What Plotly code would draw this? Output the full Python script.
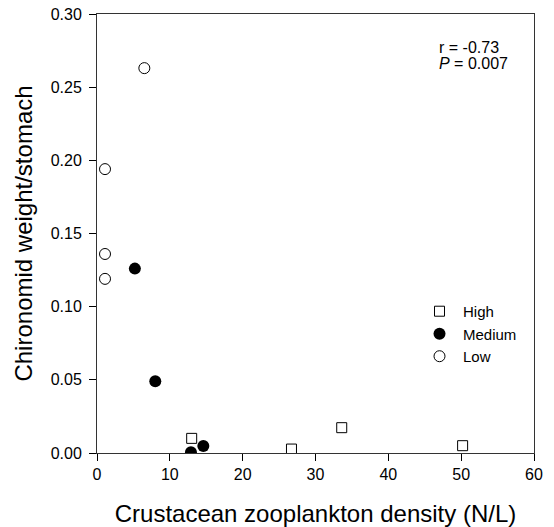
import plotly.graph_objects as go

high_x = [13.0, 26.7, 33.6, 50.2]
high_y = [0.010, 0.0027, 0.0173, 0.005]
med_x = [5.2, 8.0, 12.9, 14.6]
med_y = [0.126, 0.049, 0.0005, 0.0048]
low_x = [6.5, 1.1, 1.1, 1.1]
low_y = [0.263, 0.194, 0.136, 0.119]

x_ticks = [0, 10, 20, 30, 40, 50, 60]
y_ticks = [0.00, 0.05, 0.10, 0.15, 0.20, 0.25, 0.30]

FONT = "Liberation Sans, Arial, sans-serif"

fig = go.Figure()
fig.add_trace(go.Scatter(x=high_x, y=high_y, mode="markers", name="High",
                         marker=dict(symbol="square-open", size=10, color="black", line=dict(width=1))))
fig.add_trace(go.Scatter(x=med_x, y=med_y, mode="markers", name="Medium",
                         marker=dict(symbol="circle", size=12, color="black")))
fig.add_trace(go.Scatter(x=low_x, y=low_y, mode="markers", name="Low",
                         marker=dict(symbol="circle-open", size=11, color="black", line=dict(width=1))))

fig.update_layout(
    width=554, height=527,
    margin=dict(l=97, r=20, t=14, b=74, autoexpand=False),
    paper_bgcolor="white", plot_bgcolor="white",
    font=dict(family=FONT, color="black", size=16),
    showlegend=True,
    legend=dict(x=0.73, y=0.36, xanchor="left", yanchor="top", bgcolor="rgba(0,0,0,0)",
                font=dict(size=15), tracegroupgap=0, itemwidth=37),
    xaxis=dict(range=[0, 60], tickvals=x_ticks, ticks="outside", ticklen=7, tickwidth=1,
               tickcolor="black", showline=True, linecolor="#333", linewidth=1, mirror=True,
               showgrid=False, zeroline=False, automargin=False,
               title=dict(text="Crustacean zooplankton density (N/L)", font=dict(size=24), standoff=26),
               tickfont=dict(size=16)),
    yaxis=dict(range=[0, 0.30], tickvals=y_ticks, tickformat=".2f", ticks="outside", ticklen=7,
               tickwidth=1, tickcolor="black", showline=True, linecolor="#333", linewidth=1, mirror=True,
               showgrid=False, zeroline=False, automargin=False, ticklabelstandoff=4,
               title=dict(text="Chironomid weight/stomach", font=dict(size=24), standoff=11),
               tickfont=dict(size=16)),
)

fig.add_annotation(xref="paper", yref="paper", x=0.778, y=0.9226, xanchor="left", yanchor="middle",
                   text="r = -0.73", showarrow=False, align="left",
                   font=dict(size=16, family=FONT))
fig.add_annotation(xref="paper", yref="paper", x=0.778, y=0.888, xanchor="left", yanchor="middle",
                   text="<i>P</i> = 0.007", showarrow=False, align="left",
                   font=dict(size=16, family=FONT))

# remove the page's default body margin so the figure fills the window exactly
fig.write_html("out.html", config={"displayModeBar": False},
               post_script="document.body.style.margin='0';document.body.style.overflow='hidden';")
